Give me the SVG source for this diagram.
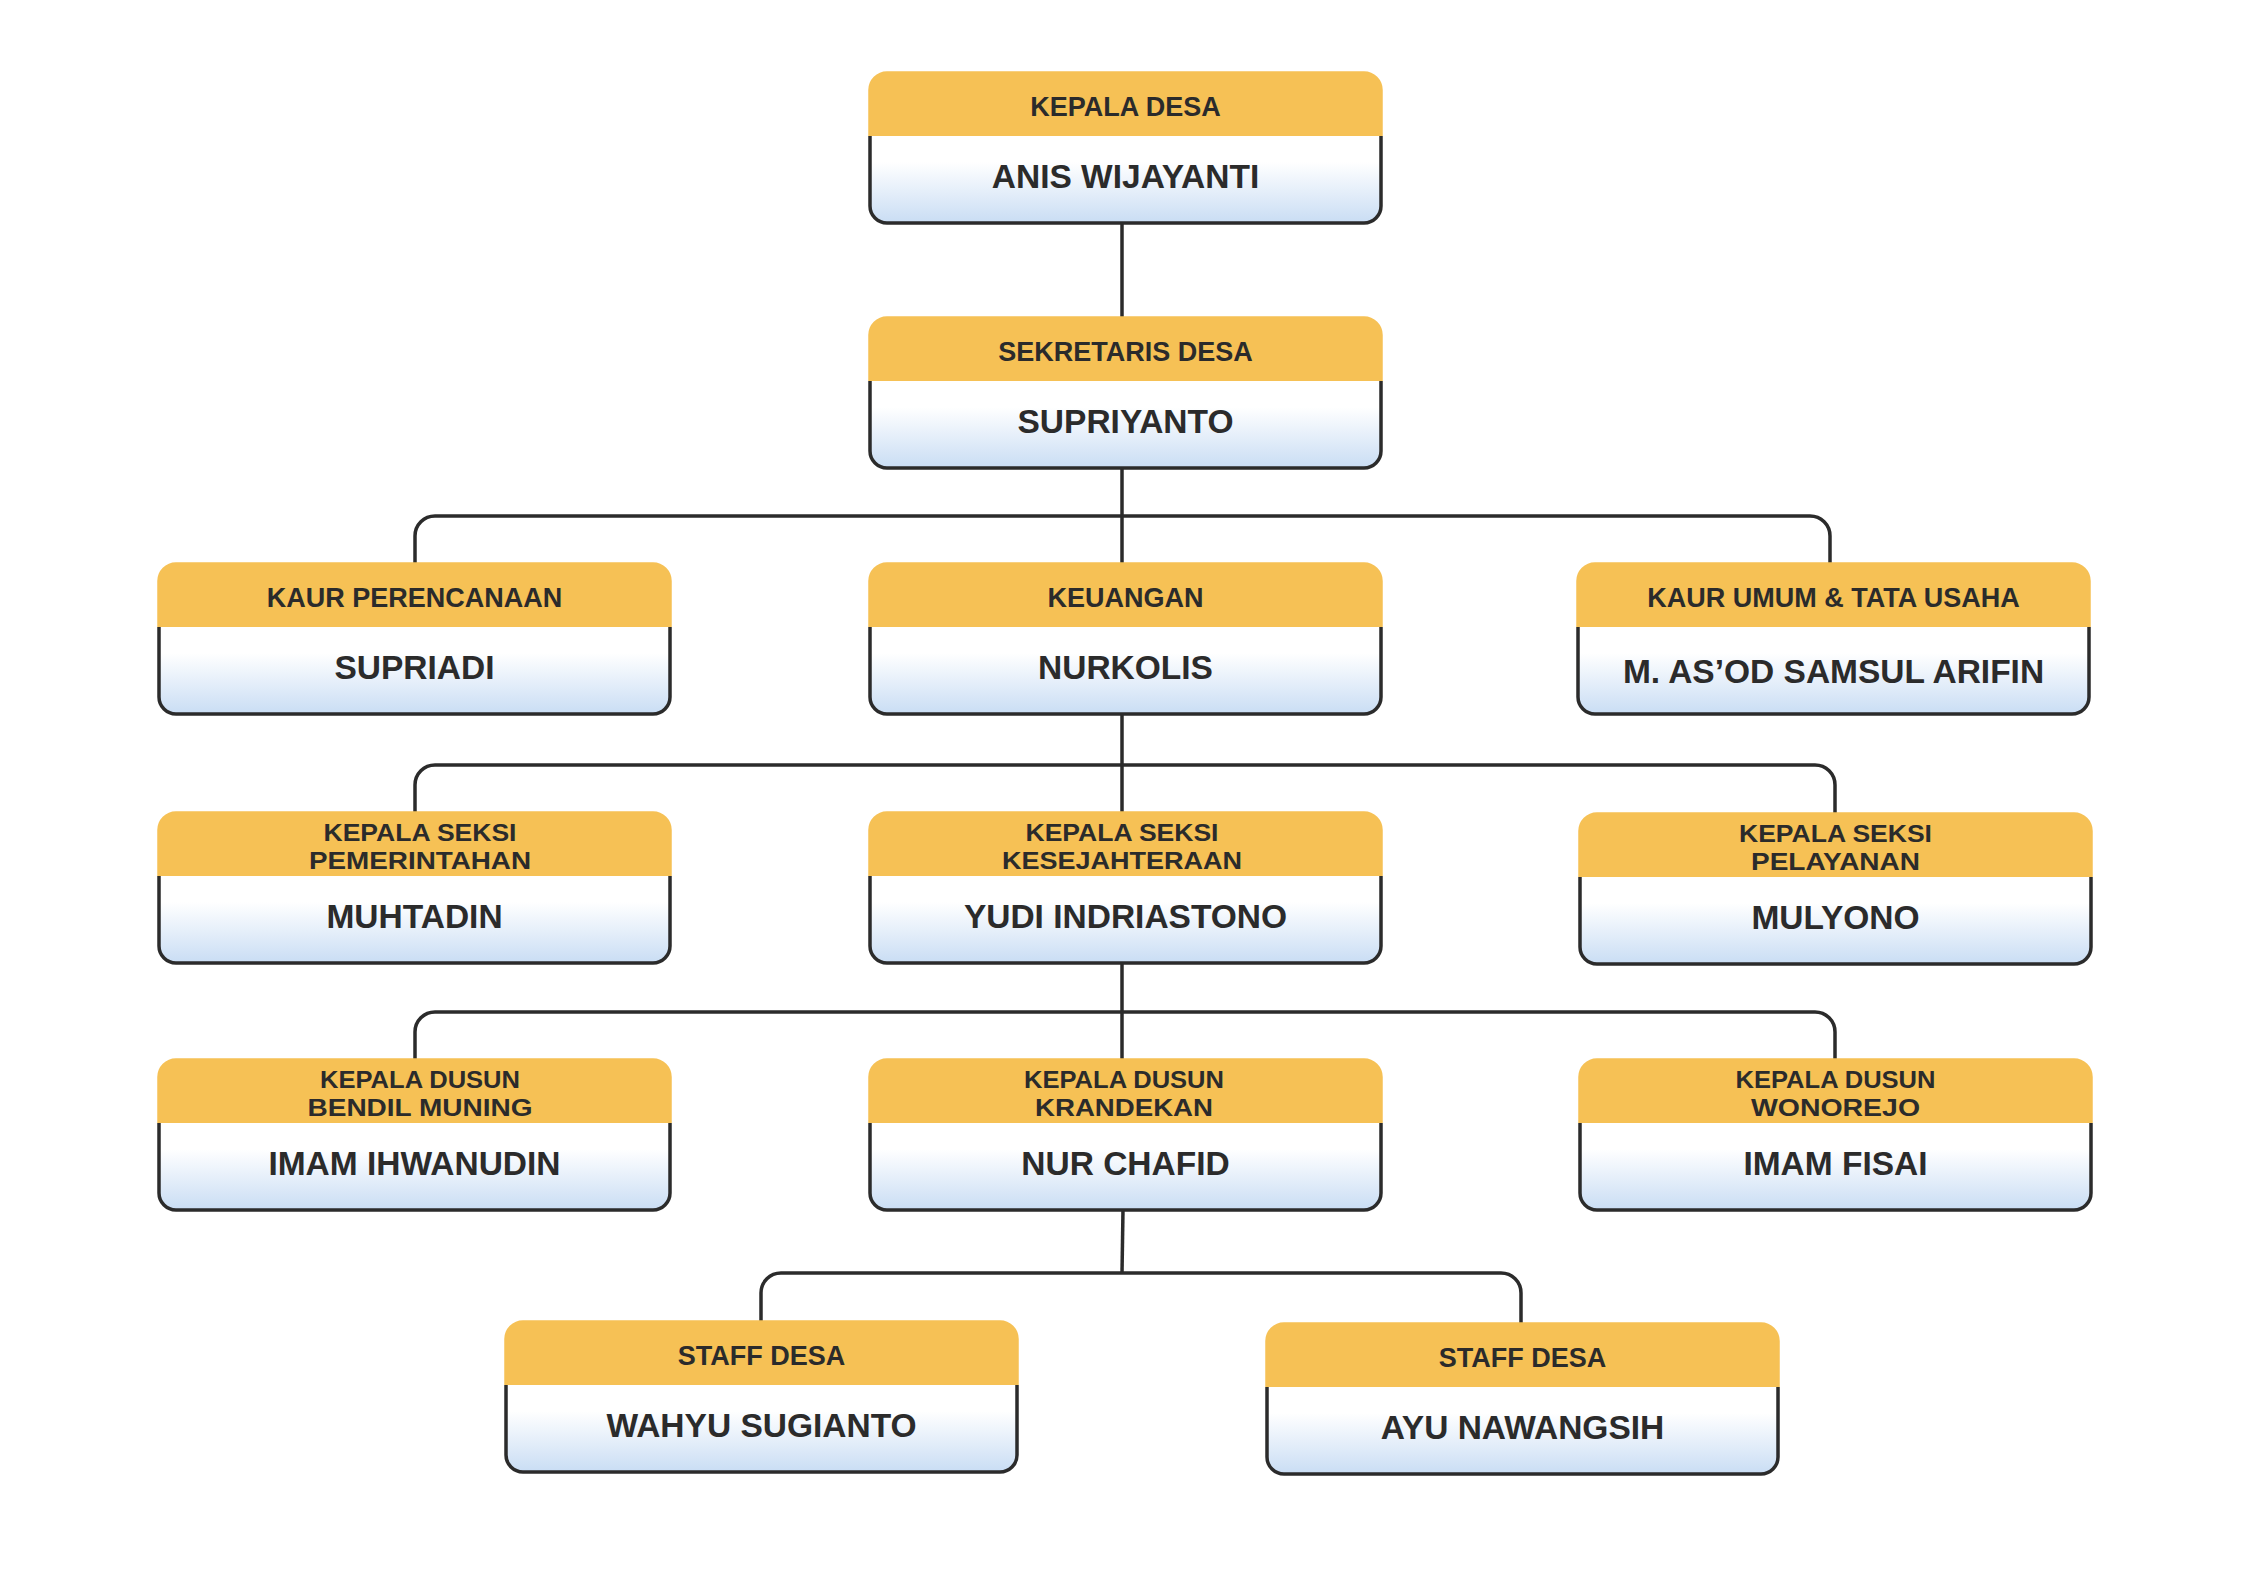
<svg xmlns="http://www.w3.org/2000/svg" xmlns:xlink="http://www.w3.org/1999/xlink" width="2245" height="1587" viewBox="0 0 2245 1587">
<style>
.hd{font-family:"Liberation Sans",Arial,sans-serif;font-weight:bold;font-size:27px;fill:#2B2B2B;text-anchor:middle}
.h2{font-family:"Liberation Sans",Arial,sans-serif;font-weight:bold;font-size:24.5px;fill:#2B2B2B;text-anchor:middle}
.nm{font-family:"Liberation Sans",Arial,sans-serif;font-weight:bold;font-size:33.5px;fill:#2B2B2B;text-anchor:middle}
.cn{fill:none;stroke:#2B2B2B;stroke-width:3.5}
</style>
<defs>
<linearGradient id="bg" x1="0" y1="0" x2="0" y2="1">
<stop offset="0" stop-color="#FFFFFF"/>
<stop offset="0.3" stop-color="#FFFFFF"/>
<stop offset="1" stop-color="#C9DDF4"/>
</linearGradient>
<path id="body" d="M0,63 V133 A17,17 0 0 0 17,150 H494 A17,17 0 0 0 511,133 V63" fill="url(#bg)" stroke="#2B2B2B" stroke-width="3.5"/>
<path id="hdr" d="M-1.75,63 V17 A18.75,18.75 0 0 1 17,-1.75 H494 A18.75,18.75 0 0 1 512.75,17 V63 Z" fill="#F6C155"/>
</defs>
<rect width="2245" height="1587" fill="#FFFFFF"/>
<g id="connectors">
<path class="cn" d="M1122,223 V318"/>
<path class="cn" d="M1122,468 V564"/>
<path class="cn" d="M415,564 V536 A20,20 0 0 1 435,516 H1810 A20,20 0 0 1 1830,536 V564"/>
<path class="cn" d="M1122,714 V813"/>
<path class="cn" d="M415,813 V785 A20,20 0 0 1 435,765 H1815 A20,20 0 0 1 1835,785 V814"/>
<path class="cn" d="M1122,963 V1060"/>
<path class="cn" d="M415,1060 V1032 A20,20 0 0 1 435,1012 H1815 A20,20 0 0 1 1835,1032 V1060"/>
<path class="cn" d="M1123,1210 L1122,1273"/>
<path class="cn" d="M761,1322 V1293 A20,20 0 0 1 781,1273 H1501 A20,20 0 0 1 1521,1293 V1324"/>
</g>
<g id="n-kepala-desa" transform="translate(870,73)">
<use href="#body"/><use href="#hdr"/>
<text class="hd" x="255.5" y="43">KEPALA DESA</text>
<text class="nm" x="255.5" y="115">ANIS WIJAYANTI</text>
</g>
<g id="n-sekretaris" transform="translate(870,318)">
<use href="#body"/><use href="#hdr"/>
<text class="hd" x="255.5" y="43">SEKRETARIS DESA</text>
<text class="nm" x="255.5" y="115">SUPRIYANTO</text>
</g>
<g id="n-kaur-perencanaan" transform="translate(159,564)">
<use href="#body"/><use href="#hdr"/>
<text class="hd" x="255.5" y="43">KAUR PERENCANAAN</text>
<text class="nm" x="255.5" y="115">SUPRIADI</text>
</g>
<g id="n-keuangan" transform="translate(870,564)">
<use href="#body"/><use href="#hdr"/>
<text class="hd" x="255.5" y="43">KEUANGAN</text>
<text class="nm" x="255.5" y="115">NURKOLIS</text>
</g>
<g id="n-kaur-umum" transform="translate(1578,564)">
<use href="#body"/><use href="#hdr"/>
<text class="hd" x="255.5" y="43">KAUR UMUM &amp; TATA USAHA</text>
<text class="nm" x="255.5" y="119">M. AS’OD SAMSUL ARIFIN</text>
</g>
<g id="n-seksi-pemerintahan" transform="translate(159,813)">
<use href="#body"/><use href="#hdr"/>
<text class="h2" x="261" y="28" textLength="193" lengthAdjust="spacingAndGlyphs">KEPALA SEKSI</text>
<text class="h2" x="261" y="56" textLength="222" lengthAdjust="spacingAndGlyphs">PEMERINTAHAN</text>
<text class="nm" x="255.5" y="115">MUHTADIN</text>
</g>
<g id="n-seksi-kesejahteraan" transform="translate(870,813)">
<use href="#body"/><use href="#hdr"/>
<text class="h2" x="252" y="28" textLength="193" lengthAdjust="spacingAndGlyphs">KEPALA SEKSI</text>
<text class="h2" x="252" y="56" textLength="240" lengthAdjust="spacingAndGlyphs">KESEJAHTERAAN</text>
<text class="nm" x="255.5" y="115">YUDI INDRIASTONO</text>
</g>
<g id="n-seksi-pelayanan" transform="translate(1580,814)">
<use href="#body"/><use href="#hdr"/>
<text class="h2" x="255.5" y="28" textLength="193" lengthAdjust="spacingAndGlyphs">KEPALA SEKSI</text>
<text class="h2" x="255.5" y="56" textLength="169" lengthAdjust="spacingAndGlyphs">PELAYANAN</text>
<text class="nm" x="255.5" y="115">MULYONO</text>
</g>
<g id="n-dusun-bendil" transform="translate(159,1060)">
<use href="#body"/><use href="#hdr"/>
<text class="h2" x="261" y="28" textLength="200" lengthAdjust="spacingAndGlyphs">KEPALA DUSUN</text>
<text class="h2" x="261" y="56" textLength="225" lengthAdjust="spacingAndGlyphs">BENDIL MUNING</text>
<text class="nm" x="255.5" y="115">IMAM IHWANUDIN</text>
</g>
<g id="n-dusun-krandekan" transform="translate(870,1060)">
<use href="#body"/><use href="#hdr"/>
<text class="h2" x="254" y="28" textLength="200" lengthAdjust="spacingAndGlyphs">KEPALA DUSUN</text>
<text class="h2" x="254" y="56" textLength="178" lengthAdjust="spacingAndGlyphs">KRANDEKAN</text>
<text class="nm" x="255.5" y="115">NUR CHAFID</text>
</g>
<g id="n-dusun-wonorejo" transform="translate(1580,1060)">
<use href="#body"/><use href="#hdr"/>
<text class="h2" x="255.5" y="28" textLength="200" lengthAdjust="spacingAndGlyphs">KEPALA DUSUN</text>
<text class="h2" x="255.5" y="56" textLength="169" lengthAdjust="spacingAndGlyphs">WONOREJO</text>
<text class="nm" x="255.5" y="115">IMAM FISAI</text>
</g>
<g id="n-staff-wahyu" transform="translate(506,1322)">
<use href="#body"/><use href="#hdr"/>
<text class="hd" x="255.5" y="43">STAFF DESA</text>
<text class="nm" x="255.5" y="115">WAHYU SUGIANTO</text>
</g>
<g id="n-staff-ayu" transform="translate(1267,1324)">
<use href="#body"/><use href="#hdr"/>
<text class="hd" x="255.5" y="43">STAFF DESA</text>
<text class="nm" x="255.5" y="115">AYU NAWANGSIH</text>
</g>
</svg>
